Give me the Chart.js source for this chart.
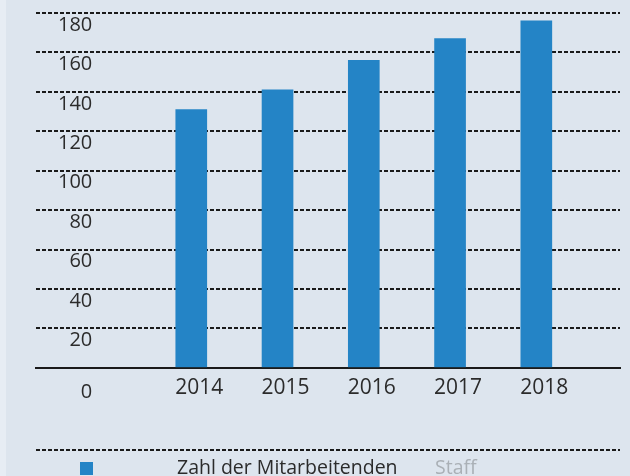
<!DOCTYPE html>
<html>
<head>
<meta charset="utf-8">
<script src="https://cdn.jsdelivr.net/npm/chart.js@4"></script>
<style>
    html, body { margin: 0; padding: 0; background: #dde5ee; }
    #wrap {
        width: 630px;
        height: 476px;
        position: relative;
        background: linear-gradient(to right, #e7edf4 0, #e7edf4 6px, #dde5ee 6px);
    }
</style>
</head>
<body>
<div id="wrap"><canvas id="CanvasStaff" width="630" height="476"></canvas></div>
<script>
    const years = [2014, 2015, 2016, 2017, 2018];
    const staffCounts = [131, 141, 156, 167, 176];
    const yTickValues = [0, 20, 40, 60, 80, 100, 120, 140, 160, 180];
    const seriesLabel = "Zahl der Mitarbeitenden";
    const seriesLabelEn = "Staff";

    const barColor = "#2484c6";
    const lineColor = "#1a1a1a";
    const textColor = "#2b2b2b";
    const fontFamily = "'Open Sans', sans-serif";

    // legend row under the chart: dashed rule, square, german + english label
    const footerLegend = {
        id: 'footerLegend',
        afterDraw(chart) {
            const ctx = chart.ctx;
            const area = chart.chartArea;
            ctx.save();
            ctx.strokeStyle = lineColor;
            ctx.lineWidth = 2;
            ctx.setLineDash([4, 2]);
            ctx.beginPath();
            ctx.moveTo(area.left, 450);
            ctx.lineTo(area.right, 450);
            ctx.stroke();

            ctx.fillStyle = chart.data.datasets[0].backgroundColor;
            ctx.fillRect(80, 462, 13, 13);

            ctx.font = "19.5px " + fontFamily;
            ctx.textBaseline = 'alphabetic';
            ctx.textAlign = 'left';
            ctx.fillStyle = textColor;
            ctx.fillText(chart.data.datasets[0].label, 177, 474);
            ctx.fillStyle = "#aab0b6";
            ctx.fillText(seriesLabelEn, 435, 474);
            ctx.restore();
        }
    };

    new Chart(document.getElementById("CanvasStaff"), {
        type: 'bar',
        data: {
            datasets: [{
                label: seriesLabel,
                data: years.map((year, i) => ({ x: year, y: staffCounts[i] })),
                backgroundColor: barColor,
                barThickness: 31
            }]
        },
        options: {
            responsive: false,
            animation: false,
            layout: {
                padding: { left: 36, right: 10, top: 13, bottom: 67 }
            },
            plugins: {
                legend: { display: false },
                tooltip: { enabled: false }
            },
            scales: {
                x: {
                    type: 'linear',
                    offset: false,
                    min: 2012.2,
                    max: 2018.97,
                    afterBuildTicks: axis => {
                        axis.ticks = years.map(v => ({ value: v }));
                    },
                    grid: { display: false, drawTicks: false, offset: false },
                    border: { display: true, color: lineColor, width: 2 },
                    ticks: {
                        color: textColor,
                        font: { family: fontFamily, size: 21 },
                        padding: 8,
                        labelOffset: 8,
                        maxRotation: 0,
                        autoSkip: false,
                        callback: v => String(v)
                    }
                },
                y: {
                    min: 0,
                    max: 180,
                    afterBuildTicks: axis => {
                        axis.ticks = yTickValues.map(v => ({ value: v }));
                    },
                    // labels sit inside the plot, so the axis itself takes no room
                    afterFit: axis => {
                        axis.width = 0;
                        axis.paddingTop = 0;
                        axis.paddingBottom = 0;
                    },
                    grid: {
                        color: c => (c.tick && c.tick.value === 0) ? 'rgba(0,0,0,0)' : lineColor,
                        lineWidth: 2,
                        drawTicks: false
                    },
                    border: { display: false, dash: [4, 2] },
                    ticks: {
                        mirror: true,
                        crossAlign: 'far',
                        padding: 22,
                        labelOffset: 12,
                        autoSkip: false,
                        color: textColor,
                        font: { family: fontFamily, size: 20 },
                        // the 0 sits on the row of the year labels
                        callback: v => v === 0 ? ['', '0'] : String(v)
                    }
                }
            }
        },
        plugins: [footerLegend]
    });
</script>
</body>
</html>
